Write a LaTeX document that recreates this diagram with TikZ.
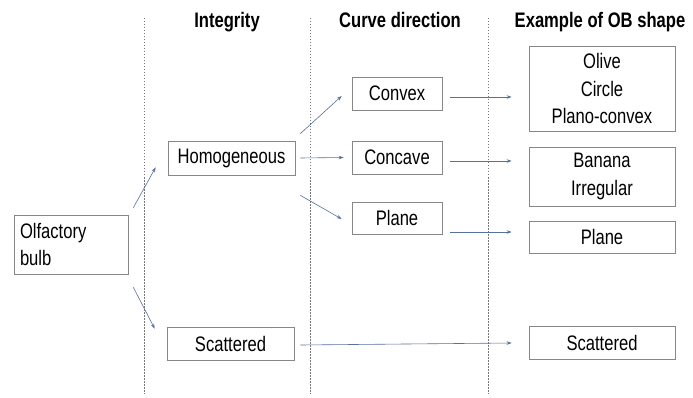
\documentclass[tikz,border=0pt]{standalone}
\usepackage{fontspec}
\setmainfont{Liberation Sans}[FakeStretch=0.79]
\usepackage{tikz}
\usetikzlibrary{
	calc,
	arrows.meta,
	positioning,
	}
\definecolor{boxgray}{RGB}{135,135,135}
\definecolor{linegray}{RGB}{120,120,120}
\definecolor{arrowblue}{RGB}{88,112,158}
\tikzset{
    box/.style		= {draw=boxgray,line width=0.7pt,inner sep=0pt,align=center,font=\fontsize{21}{27.5}\selectfont},
    head/.style		= {inner sep=0pt,anchor=base,font=\fontsize{21}{27.5}\selectfont\bfseries},
    arr/.style		= {draw=arrowblue,line width=0.6pt,-{Stealth[length=5pt,width=3.5pt]}},
}

\begin{document}
\begin{tikzpicture}[x=1pt,y=-1pt]
\useasboundingbox[fill=white] (0,0) rectangle (693,398);
% column separators
\foreach \xx in {144,310,488} {\draw[linegray,line width=0.5pt,dash pattern=on 1.5pt off 1.5pt] (\xx,18) -- (\xx,394);}
\node[head] (hint) at (227,28) {Integrity};
\node[head] (hcur) at (400,28) {Curve direction};
\node[head] (hobs) at (600,28) {Example of OB shape};
% boxes
\node[box,minimum width=114pt,minimum height=59pt,text width=102pt,align=left] (olf) at (71,244.5) {Olfactory\\bulb};
\node[box,minimum width=127pt,minimum height=34pt] (hom) at (231.5,158) {Homogeneous};
\node[box,minimum width=127pt,minimum height=33pt] (scl) at (230.5,343.5) {Scattered};
\node[box,minimum width=90pt,minimum height=33pt] (conv) at (397,93.5) {Convex};
\node[box,minimum width=90pt,minimum height=33pt] (conc) at (397,157.5) {Concave};
\node[box,minimum width=90pt,minimum height=32pt] (plm) at (397,218) {Plane};
\node[box,minimum width=146pt,minimum height=85pt] (olive) at (602,88.5) {Olive\\Circle\\Plano-convex};
\node[box,minimum width=146pt,minimum height=59pt] (ban) at (602,176.5) {Banana\\Irregular};
\node[box,minimum width=146pt,minimum height=32pt] (plr) at (602,237) {Plane};
\node[box,minimum width=146pt,minimum height=33pt] (scr) at (602,342.5) {Scattered};
% arrows
\draw[arr] ($(olf.north east)+(5,-7)$) -- ($(hom.south west)+(-12,-8)$);
\draw[arr] ($(olf.south east)+(5,13)$) -- ($(scl.north west)+(-12,2)$);
\draw[arr] ($(hom.north east)+(5,-7)$) -- ($(conv.west)+(-10,2.5)$);
\draw[arr] ($(hom.east)+(5,0)$) -- ($(conc.west)+(-8,0)$);
\draw[arr] ($(hom.south east)+(5,20)$) -- ($(plm.west)+(-10,1)$);
\draw[arr] ($(conv.east)+(8,3.5)$) -- ($(conv.east -| olive.west)+(-17,3.5)$);
\draw[arr] ($(conc.east)+(8,3.5)$) -- ($(conc.east -| ban.west)+(-17,3.5)$);
\draw[arr] ($(plm.east)+(8,14)$) -- ($(plm.east -| plr.west)+(-17,14)$);
\draw[arr] ($(scl.east)+(6,1.5)$) -- ($(scr.west)+(-17,0.5)$);
\end{tikzpicture}
\end{document}
